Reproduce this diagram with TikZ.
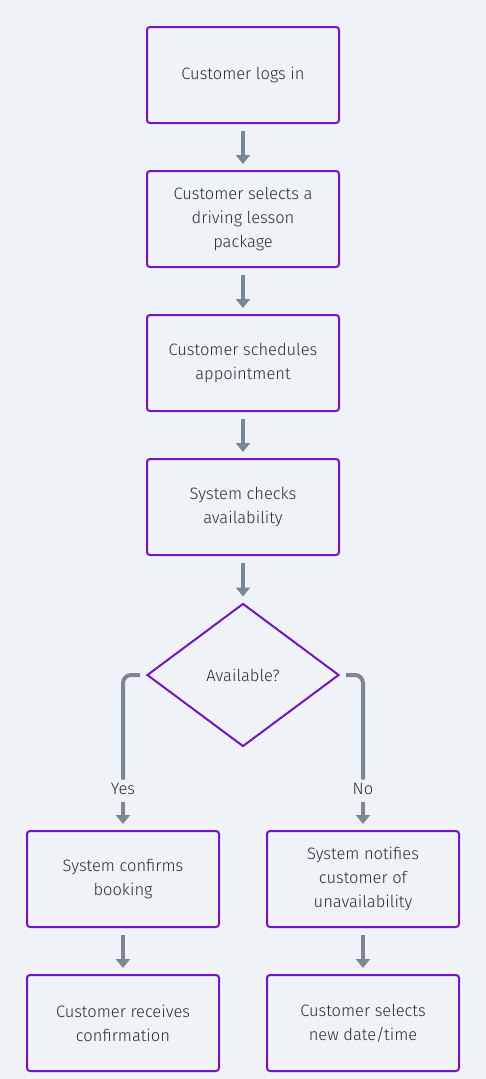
\documentclass[tikz,border=0pt]{standalone}
\usepackage{fontspec}
\setmainfont{Fira Sans}[UprightFont=* Light]
\usetikzlibrary{arrows.meta, shapes.geometric}

\definecolor{bg}{HTML}{EFF3F7}
\definecolor{boxline}{HTML}{7414C8}
\definecolor{arrowgray}{HTML}{7A8896}
\definecolor{txt}{HTML}{252D3A}

\begin{document}
\begin{tikzpicture}[x=1pt, y=-1pt, font=\fontsize{16.5}{24}\selectfont, text=txt,
    stepbox/.style={draw=boxline, line width=2pt, rounded corners=3pt, minimum width=192pt, minimum height=96pt, align=center, inner sep=0pt},
    decision/.style={diamond, draw=boxline, line width=2pt, minimum width=192pt, minimum height=143pt, aspect=1.34, inner sep=0pt},
    flow/.style={draw=arrowgray, line width=4pt, -{Triangle[width=14pt,length=9pt]}, shorten <=7pt, shorten >=6pt},
    branch/.style={draw=arrowgray, line width=4pt, rounded corners=8pt, shorten <=6pt}]
            \fill[bg] (0,0) rectangle (486,1079);
            \node[stepbox] (login) at (243,75) {Customer logs in};
            \node[stepbox] (package) at (243,219) {Customer selects a\\ driving lesson\\ package};
            \node[stepbox] (schedule) at (243,363) {Customer schedules\\ appointment};
            \node[stepbox] (check) at (243,507) {System checks\\ availability};
            \node[decision] (avail) at (243,675) {Available?};
            \node (yes) at (123,789) {Yes};
            \node (no) at (363,789) {No};
            \node[stepbox] (confirm) at (123,879) {System confirms\\ booking};
            \node[stepbox] (notify) at (363,879) {System notifies\\ customer of\\ unavailability};
            \node[stepbox] (receive) at (123,1023) {Customer receives\\ confirmation};
            \node[stepbox] (newdate) at (363,1023) {Customer selects\\ new date/time};
            % main column
            \draw[flow] (login) -- (package);
            \draw[flow] (package) -- (schedule);
            \draw[flow] (schedule) -- (check);
            \draw[flow] (check) -- (avail);
            % branches
            \draw[branch] (avail.west) -| (yes.north);
            \draw[branch] (avail.east) -| (no.north);
            \draw[flow, shorten <=4pt] (yes) -- (confirm);
            \draw[flow, shorten <=4pt] (no) -- (notify);
            \draw[flow] (confirm) -- (receive);
            \draw[flow] (notify) -- (newdate);
        \end{tikzpicture}
\end{document}
